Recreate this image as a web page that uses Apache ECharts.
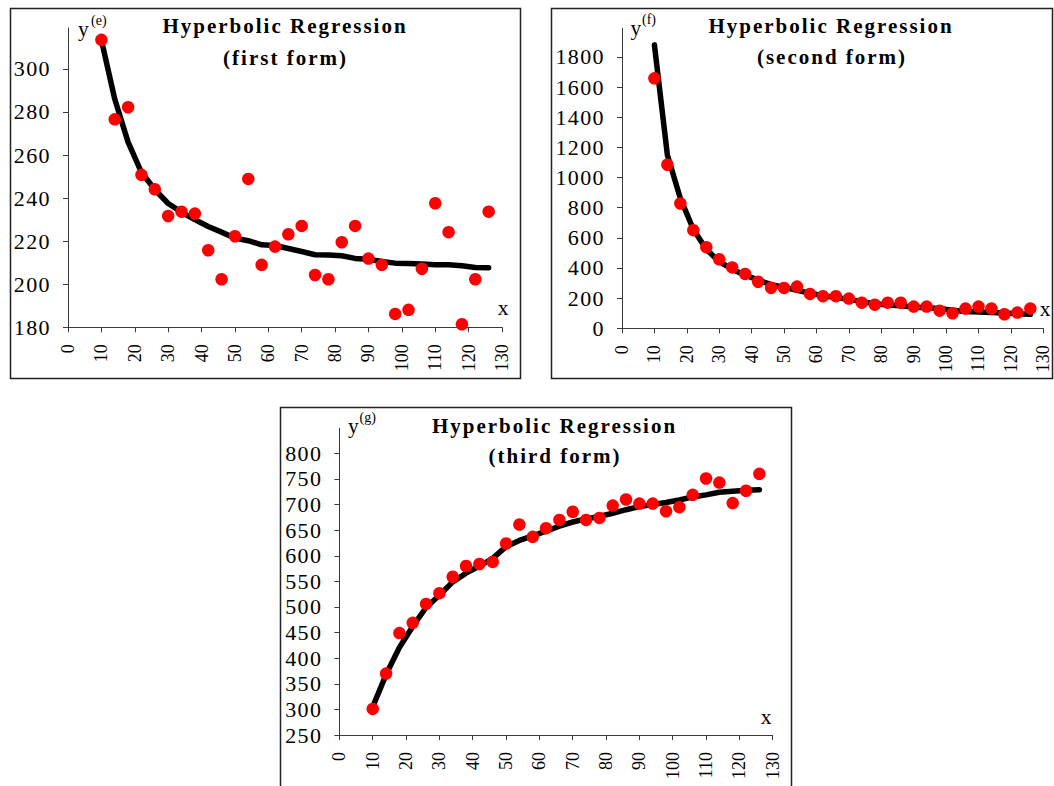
<!DOCTYPE html>
<html>
<head>
<meta charset="utf-8">
<script src="https://cdn.jsdelivr.net/npm/echarts@6/dist/echarts.min.js"></script>
<style>
html,body{margin:0;padding:0;background:#fff;}
#chart{width:1054px;height:786px;}
#chart text[style*="bold"]{letter-spacing:2px;}
#chart text[style*="22px"]{letter-spacing:1.4px;}
</style>
</head>
<body>
<div id="chart"></div>
<script>
// ---- data ----
const xValues = [10,14,18,22,26,30,34,38,42,46,50,54,58,62,66,70,74,78,82,86,90,94,98,102,106,110,114,118,122,126];
const xTicks = [0,10,20,30,40,50,60,70,80,90,100,110,120,130];

const yTicksE = [180,200,220,240,260,280,300];
const yTicksF = [0,200,400,600,800,1000,1200,1400,1600,1800];
const yTicksG = [250,300,350,400,450,500,550,600,650,700,750,800];

const observedE = [313.5,276.6,282.2,250.8,244.1,231.7,233.7,232.8,215.8,202.3,222.3,248.9,209.0,217.5,223.2,227.1,204.3,202.3,219.5,227.1,211.9,209.0,186.2,188.1,207.2,237.6,224.2,181.4,202.3,233.7];
const fittedE   = [313.5,286,266,252,244,237.5,233.5,230,226.8,224.2,221.4,220.2,218.3,218,216.6,215.2,213.7,213.6,213.2,212,211.6,210.6,209.8,209.6,209.4,209,209,208.6,207.8,207.7];

const observedF = [1658,1085,828,651,538,458,404,361,309,269,268,277,228,213,213,197,170,157,170,170,144,144,117,100,131,144,131,93,104,131];
const fittedF   = [1880,1150,863,657,525,442,392,352,321,290,272,252,233,216,204,192,177,163,155,149,142,137,131,120,112,108,105,101,97,93];

const observedG = [301,370,449,469,506,527,559,580,584,588,624,661,637,654,670,686,670,674,698,710,702,702,687,695,719,751,743,703,727,760];
const fittedG   = [305,368,421,462,499,523,549,566,580,595,618,630,639,648,658,666,672,677,683,690,696,700,704,709,715,719,724,726,728,729];

const titleMain = 'Hyperbolic Regression';
const titleSubs = ['(first form)', '(second form)', '(third form)'];
const yNames = ['(e)', '(f)', '(g)'];

// ---- styling ----
const FONT = 'Liberation Serif';
const AXIS_COLOR = '#3a3a3a';

function pairs(xs, ys){ return xs.map((x,i)=>[x, ys[i]]); }
function plain(v){ return String(v); }

function makeX(i){
  return {
    type:'value', gridIndex:i, min:0, max:130, interval:10,
    axisLine:{show:true, onZero:false, lineStyle:{color:AXIS_COLOR, width:1}},
    axisTick:{show:true, inside:false, length:5, lineStyle:{color:AXIS_COLOR, width:1}, customValues:xTicks},
    splitLine:{show:false},
    axisLabel:{rotate:90, margin:17, color:'#000', fontSize:18, fontFamily:FONT, customValues:xTicks, formatter:plain}
  };
}
function makeY(i, min, max, ticks){
  return {
    type:'value', gridIndex:i, min:min, max:max, interval:ticks[1]-ticks[0],
    axisLine:{show:true, onZero:false, lineStyle:{color:AXIS_COLOR, width:1}},
    axisTick:{show:true, inside:false, length:5, lineStyle:{color:AXIS_COLOR, width:1}, customValues:ticks},
    splitLine:{show:false},
    axisLabel:{margin:17, color:'#000', fontSize:22, fontFamily:FONT, customValues:ticks, formatter:plain}
  };
}
function lineSeries(i, ys){
  return {type:'line', xAxisIndex:i, yAxisIndex:i, data:pairs(xValues, ys),
    showSymbol:false, symbol:'none', smooth:false, silent:true, z:2,
    lineStyle:{color:'#000', width:5.5, cap:'round', join:'round'}};
}
function dotSeries(i, ys){
  return {type:'scatter', xAxisIndex:i, yAxisIndex:i, data:pairs(xValues, ys),
    symbol:'circle', symbolSize:12.5, silent:true, z:3,
    itemStyle:{color:'#ff0000', opacity:1}};
}
function txt(x, y, text, size, weight, align){
  return {type:'text', x:x, y:y, silent:true, z:10,
    style:{text:text, fontFamily:FONT, fontSize:size, fontWeight:weight, fill:'#000', align:align||'left', verticalAlign:'middle'}};
}
function frame(x, y, w, h){
  return {type:'rect', silent:true, z:0, shape:{x:x, y:y, width:w, height:h},
    style:{fill:'none', stroke:'#222', lineWidth:1.5}};
}

const option = {
  animation:false,
  backgroundColor:'#fff',
  grid:[
    {left:68, right:552, top:28, bottom:458.7, containLabel:false, outerBoundsMode:'none'},
    {left:622, right:10.7, top:28.3, bottom:457.7, containLabel:false, outerBoundsMode:'none'},
    {left:339.4, right:281.3, top:428.3, bottom:51, containLabel:false, outerBoundsMode:'none'}
  ],
  xAxis:[makeX(0), makeX(1), makeX(2)],
  yAxis:[makeY(0,180,319,yTicksE), makeY(1,0,1990,yTicksF), makeY(2,250,849,yTicksG)],
  series:[
    lineSeries(0, fittedE), dotSeries(0, observedE),
    lineSeries(1, fittedF), dotSeries(1, observedF),
    lineSeries(2, fittedG), dotSeries(2, observedG)
  ],
  graphic:[
    frame(10.5, 8.5, 510, 370),
    frame(551.5, 8.5, 501, 370),
    frame(280.5, 407.5, 511, 420),
    // titles
    txt(285, 26.2, titleMain, 21, 'bold', 'center'),
    txt(285.5, 57.5, titleSubs[0], 21, 'bold', 'center'),
    txt(831, 26.2, titleMain, 21, 'bold', 'center'),
    txt(832, 56.5, titleSubs[1], 21, 'bold', 'center'),
    txt(554.5, 426.2, titleMain, 21, 'bold', 'center'),
    txt(555, 455.6, titleSubs[2], 21, 'bold', 'center'),
    // y names
    txt(78, 28.5, 'y', 21.5, 'normal', 'left'),
    txt(91, 20, yNames[0], 14, 'normal', 'left'),
    txt(630.5, 27.5, 'y', 21.5, 'normal', 'left'),
    txt(642, 19, yNames[1], 14, 'normal', 'left'),
    txt(348, 425.5, 'y', 21.5, 'normal', 'left'),
    txt(359.5, 417, yNames[2], 14, 'normal', 'left'),
    // x names
    txt(503, 308, 'x', 21.5, 'normal', 'center'),
    txt(1045, 309, 'x', 21.5, 'normal', 'center'),
    txt(766, 717, 'x', 21.5, 'normal', 'center')
  ]
};

const chart = echarts.init(document.getElementById('chart'), null, {renderer:'svg', width:1054, height:786});
chart.setOption(option);
</script>
</body>
</html>
